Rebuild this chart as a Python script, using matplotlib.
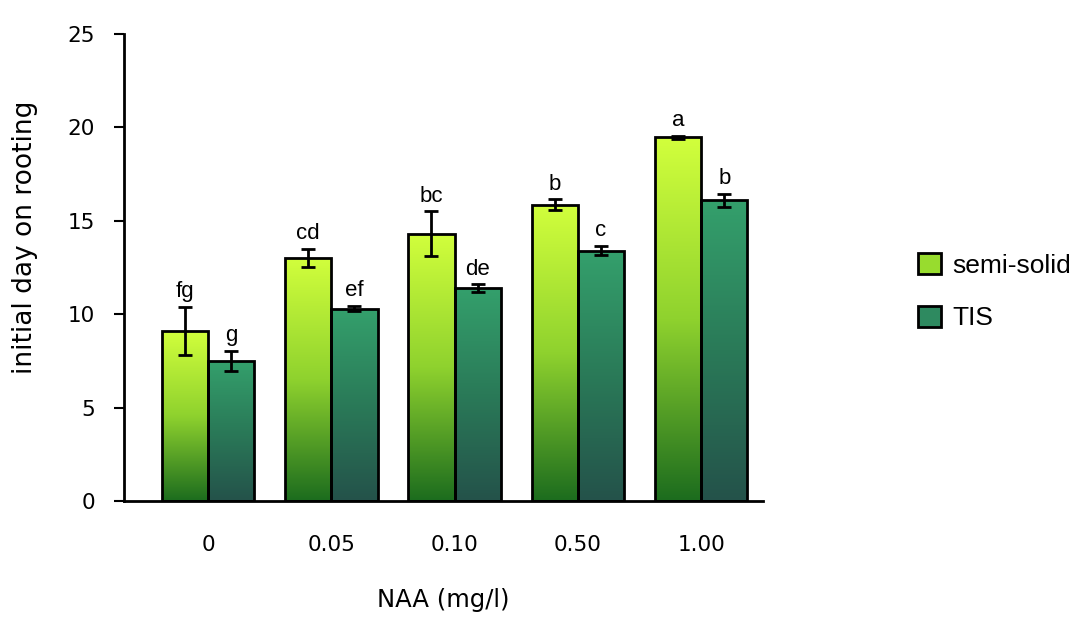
import numpy as np
import matplotlib
matplotlib.use("Agg")
import matplotlib.pyplot as plt
from matplotlib.colors import LinearSegmentedColormap
from matplotlib.patches import Patch

# data
doses = ["0", "0.05", "0.10", "0.50", "1.00"]
semi_solid = [9.1, 13.0, 14.3, 15.85, 19.45]
semi_err = [1.3, 0.5, 1.2, 0.3, 0.1]
tis = [7.5, 10.3, 11.4, 13.4, 16.1]
tis_err = [0.55, 0.15, 0.2, 0.25, 0.35]
semi_letters = ["fg", "cd", "bc", "b", "a"]
tis_letters = ["g", "ef", "de", "c", "b"]

semi_cmap = LinearSegmentedColormap.from_list("semi", ["#1c6c1e", "#8fd22e", "#d2ff3c"])
tis_cmap = LinearSegmentedColormap.from_list("tis", ["#24524a", "#2a7a58", "#34a06c"])

fig = plt.figure(figsize=(10.7, 6.36), dpi=100)
ax = fig.add_axes([0.116, 0.212, 0.597, 0.735])

x = np.arange(len(doses))
w = 0.375
grad = np.linspace(0, 1, 256).reshape(-1, 1)


def grad_bars(xpos, vals, cmap):
    bars = ax.bar(xpos, vals, w, facecolor="none", edgecolor="black", linewidth=2, zorder=3)
    for b in bars:
        x0, y0 = b.get_x(), b.get_y()
        im = ax.imshow(grad, cmap=cmap, origin="lower", aspect="auto",
                       extent=[x0, x0 + b.get_width(), y0, y0 + b.get_height()], zorder=2)
        im.set_clip_path(b)
    return bars


grad_bars(x - w / 2, semi_solid, semi_cmap)
grad_bars(x + w / 2, tis, tis_cmap)

ax.errorbar(x - w / 2, semi_solid, yerr=semi_err, fmt="none", ecolor="black",
            elinewidth=2, capsize=5, capthick=2, zorder=4)
ax.errorbar(x + w / 2, tis, yerr=tis_err, fmt="none", ecolor="black",
            elinewidth=2, capsize=5, capthick=2, zorder=4)

for i in range(len(doses)):
    ax.text(x[i] - w / 2, semi_solid[i] + semi_err[i] + 0.25, semi_letters[i],
            ha="center", va="bottom", fontsize=16, family="Liberation Sans")
    ax.text(x[i] + w / 2, tis[i] + tis_err[i] + 0.25, tis_letters[i],
            ha="center", va="bottom", fontsize=16, family="Liberation Sans")

ax.set_xlim(-0.68, 4.5)
ax.set_ylim(0, 25)
ax.set_yticks([0, 5, 10, 15, 20, 25])
ax.set_xticks(x)
ax.set_xticklabels(doses)
ax.tick_params(axis="x", length=0, pad=24, labelsize=15.5)
ax.tick_params(axis="y", length=7, width=1.5, pad=14, labelsize=15.5)
for lab in ax.get_xticklabels() + ax.get_yticklabels():
    lab.set_family("DejaVu Sans")

ax.spines["top"].set_visible(False)
ax.spines["right"].set_visible(False)
ax.spines["left"].set_linewidth(2)
ax.spines["bottom"].set_linewidth(2)

ax.set_ylabel("initial day on rooting", fontsize=19, family="DejaVu Sans")
ax.yaxis.set_label_coords(-0.135, 0.565)
ax.set_xlabel("NAA (mg/l)", fontsize=17.5, labelpad=24, family="DejaVu Sans")

handles = [Patch(facecolor="#98dc2e", edgecolor="black", linewidth=2, label="semi-solid"),
           Patch(facecolor="#2e8a60", edgecolor="black", linewidth=2, label="TIS")]
fig.legend(handles=handles, loc="center left", bbox_to_anchor=(0.836, 0.541),
           frameon=False, handlelength=0.85, handleheight=0.85,
           handletextpad=0.45, labelspacing=1.05, prop={"family": "Liberation Sans", "size": 19})

fig.savefig("out.png", dpi=100)
